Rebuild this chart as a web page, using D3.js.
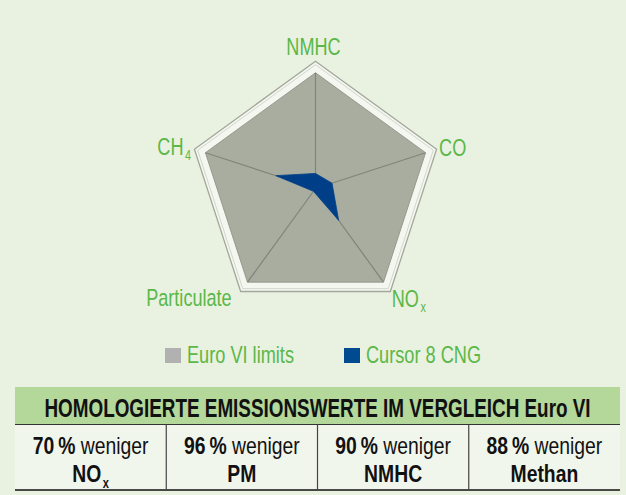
<!DOCTYPE html>
<html>
<head>
<meta charset="utf-8">
<script src="https://cdn.jsdelivr.net/npm/d3@7"></script>
<style>
  body { margin: 0; background: #e9f1e1; }
  svg { display: block; }
  text { font-family: "Liberation Sans", Arial, sans-serif; }
</style>
</head>
<body>
<div class="chart"></div>
<script>
// axes of the radar, clockwise from the top
const axes = ["NMHC", "CO", "NOx", "Particulate", "CH4"];
const euroVI = [100, 100, 100, 100, 100];
const cursor8 = [13, 15, 34, 3, 36];
const seriesNames = ["Euro VI limits", "Cursor 8 CNG"];
const tableTitle = "HOMOLOGIERTE EMISSIONSWERTE IM VERGLEICH Euro VI";
const reductions = ["70", "96", "90", "88"];
const reductionNames = ["NO", "PM", "NMHC", "Methan"];
const reductionSubs = ["x", "", "", ""];

const width = 626, height = 495;
const cx = 315.5, cy = 188.5, R = 127.3;
const green = "#5bb848";

const svg = d3.select(".chart").append("svg")
  .attr("width", width).attr("height", height);

svg.append("rect").attr("width", width).attr("height", height).attr("fill", "#e9f1e1");

const rScale = d3.scaleLinear().domain([0, 110]).range([0, R]);
const aScale = d3.scaleLinear().domain([0, axes.length]).range([0, 2 * Math.PI]);

const g = svg.append("g").attr("transform", `translate(${cx},${cy})`);

const radial = d3.lineRadial()
  .angle((d, i) => aScale(i))
  .radius((d) => rScale(d))
  .curve(d3.curveLinearClosed);

const pt = (i, v) => [Math.sin(aScale(i)) * rScale(v), -Math.cos(aScale(i)) * rScale(v)];
// no condensed font installed, so squeeze the text horizontally
const place = (x, y, s) => `translate(${x},${y}) scale(${s},1)`;

// outer frame
g.append("path")
  .attr("d", radial(axes.map(() => 110)))
  .attr("fill", "#f4f7ef")
  .attr("stroke", "#a2a79b")
  .attr("stroke-width", 1.3);
g.append("path")
  .attr("d", radial(axes.map(() => 107)))
  .attr("fill", "none")
  .attr("stroke", "#d2d6cb")
  .attr("stroke-width", 1);

// Euro VI limits
g.append("path")
  .attr("d", radial(euroVI))
  .attr("fill", "#a8ad9f")
  .attr("stroke", "#959a8e")
  .attr("stroke-width", 1);

// spokes
g.selectAll(".spoke").data(axes).enter().append("line")
  .attr("class", "spoke")
  .attr("x1", 0).attr("y1", 0)
  .attr("x2", (d, i) => pt(i, euroVI[i])[0])
  .attr("y2", (d, i) => pt(i, euroVI[i])[1])
  .attr("stroke", "#80857a")
  .attr("stroke-width", 1.2);

// Cursor 8 CNG
g.append("path")
  .attr("d", radial(cursor8))
  .attr("fill", "#003f87")
  .attr("stroke", "#003f87")
  .attr("stroke-width", 0.8);

// axis labels
const labelLayout = [
  { anchor: "middle", dx: -2, dy: -6 },
  { anchor: "start", dx: 2.5, dy: 7 },
  { anchor: "start", dx: 1.4, dy: 16 },
  { anchor: "end", dx: -9, dy: 14.5 },
  { anchor: "end", dx: -3.4, dy: 6 }
];
axes.forEach((name, i) => {
  const [x, y] = pt(i, 110);
  const L = labelLayout[i];
  const t = g.append("text")
    .attr("transform", place(x + L.dx, y + L.dy, 0.77))
    .attr("text-anchor", L.anchor)
    .attr("fill", green)
    .attr("font-size", 23.5);
  const m = name.match(/^(NO|CH)(x|4)$/);
  if (m) {
    t.append("tspan").text(m[1]);
    t.append("tspan").attr("font-size", 14).attr("dy", 5).attr("dx", 2).text(m[2]);
  } else {
    t.text(name);
  }
});

// legend
const legendColors = ["#b0b1b0", "#004a8f"];
const legendX = [165, 344];
const legend = svg.append("g").selectAll("g").data(seriesNames).enter().append("g")
  .attr("transform", (d, i) => `translate(${legendX[i]},348)`);
legend.append("rect").attr("width", 16).attr("height", 15)
  .attr("fill", (d, i) => legendColors[i]);
legend.append("text").attr("transform", place(22, 15.3, 0.79))
  .attr("fill", green).attr("font-size", 23).text((d) => d);

// table
const tx0 = 15, tx1 = 620;
const cellX = d3.scaleBand().domain(d3.range(reductions.length)).range([tx0, tx1]);
svg.append("rect").attr("x", tx0).attr("y", 424).attr("width", tx1 - tx0).attr("height", 66)
  .attr("fill", "#f1f6ec");
svg.append("rect").attr("x", tx0).attr("y", 387).attr("width", tx1 - tx0).attr("height", 37.5)
  .attr("fill", "#b4d79a");
svg.append("text").attr("transform", place((tx0 + tx1) / 2, 417, 0.755))
  .attr("text-anchor", "middle").attr("font-size", 25).attr("font-weight", "bold")
  .attr("fill", "#111").text(tableTitle);
svg.append("line").attr("x1", tx0).attr("x2", tx1).attr("y1", 424.5).attr("y2", 424.5)
  .attr("stroke", "#333").attr("stroke-width", 1);
svg.append("line").attr("x1", tx0).attr("x2", tx1).attr("y1", 490).attr("y2", 490)
  .attr("stroke", "#111").attr("stroke-width", 1.5);
svg.selectAll(".divider").data(d3.range(1, reductions.length)).enter().append("line")
  .attr("class", "divider")
  .attr("x1", (d) => cellX(d)).attr("x2", (d) => cellX(d))
  .attr("y1", 424.5).attr("y2", 490)
  .attr("stroke", "#444").attr("stroke-width", 1.2);

const cells = svg.selectAll(".cell").data(reductions).enter().append("g")
  .attr("class", "cell")
  .attr("transform", (d, i) => `translate(${cellX(i) + cellX.bandwidth() / 2},0)`);
const l1 = cells.append("text").attr("transform", place(0, 454, 0.79)).attr("text-anchor", "middle")
  .attr("font-size", 24.5).attr("fill", "#111");
l1.append("tspan").attr("font-weight", "bold").text((d) => d + "\u2009%");
l1.append("tspan").text(" weniger");
const l2 = cells.append("text").attr("transform", place(0, 482, 0.79)).attr("text-anchor", "middle")
  .attr("font-size", 24.5).attr("font-weight", "bold").attr("fill", "#111");
l2.append("tspan").text((d, i) => reductionNames[i]);
l2.filter((d, i) => reductionSubs[i]).append("tspan")
  .attr("font-size", 14).attr("dy", 6).attr("dx", 2)
  .text((d, i) => reductionSubs[i]);
</script>
</body>
</html>
